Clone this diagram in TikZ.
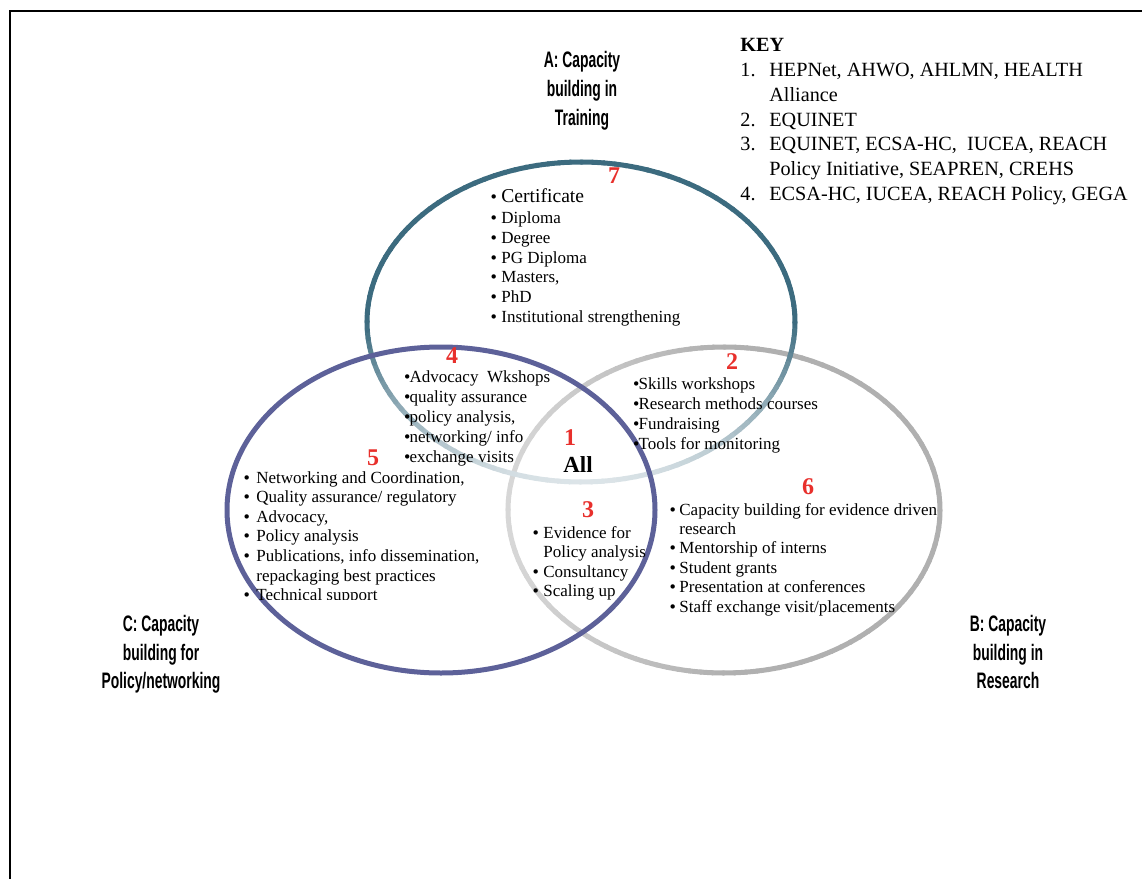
\documentclass[tikz,border=0pt]{standalone}
\usepackage{fontspec}
\setmainfont{Liberation Serif}
\newfontfamily\labfont[FakeStretch=0.62]{Liberation Sans}
\newfontfamily\bulfont{DejaVu Sans}
\definecolor{cA}{HTML}{3C6B7F}
\definecolor{cB}{HTML}{B0B0B0}
\definecolor{cC}{HTML}{5D6199}
\definecolor{nred}{HTML}{E8302C}
\newcommand\bulglyph{{\bulfont\fontsize{7.5}{7.5}\selectfont •}}
\newcommand\bul[1]{\makebox[#1][l]{\bulglyph}}
\newcommand\tbul{\hspace*{-0.8pt}\makebox[3.4pt][l]{\bulglyph}}
\begin{document}
\begin{tikzpicture}[x=0.5pt,y=-0.5pt,
  lst/.style={font=\fontsize{8.5}{10}\selectfont, inner sep=0pt, anchor=base west},
  keyt/.style={font=\fontsize{10.1}{12.5}\selectfont, inner sep=0pt, anchor=base west},
  lab/.style={font=\labfont\bfseries\fontsize{11.2}{14}\selectfont, inner sep=0pt, anchor=base},
  num/.style={font=\bfseries\fontsize{12}{12}\selectfont, text=nred, inner sep=0pt},
  ring/.style={line width=2.5pt, line cap=round}]
\useasboundingbox (0,0) rectangle (1142,879);
% frame
\coordinate (fr1) at (1142,11);
\coordinate (fr2) at (10,879);
\draw[line width=1.3pt] (fr1) -| (fr2);

% ellipse B (Research), gray, lighter on the left
\foreach \a in {0,3,...,357}{
  \pgfmathsetmacro\s{max(0,-cos(\a+1.5))}
  \pgfmathsetmacro\p{100-50*\s}
  \draw[ring, cB!\p!white] plot[domain=\a:\a+3.3, samples=3] ({724+216*cos(\x)},{510+163*sin(\x)});
}
% ellipse A (Training), teal, lighter at the bottom
\foreach \a in {0,3,...,357}{
  \pgfmathsetmacro\s{max(0,sin(\a+1.5))}
  \pgfmathsetmacro\p{100-82*\s}
  \draw[ring, cA!\p!white] plot[domain=\a:\a+3.3, samples=3] ({581+214*cos(\x)},{322+160*sin(\x)});
}
% ellipse C (Policy), purple
\draw[ring, cC] (441,510) ellipse [x radius=214, y radius=163];

% labels
\node[lab] (labA1) at (582,67) {A: Capacity};
\node[lab] (labA2) at (582,96) {building in};
\node[lab] (labA3) at (582,125) {Training};
\node[lab] (labC1) at (161,631) {C: Capacity};
\node[lab] (labC2) at (161,660) {building for};
\node[lab] (labC3) at (161,688) {Policy/networking};
\node[lab] (labB1) at (1008,631) {B: Capacity};
\node[lab] (labB2) at (1008,660) {building in};
\node[lab] (labB3) at (1008,688) {Research};

% key
\node[keyt, font=\bfseries\fontsize{10.1}{12.5}\selectfont] (key) at (740,51) {KEY};
\node[keyt] (k1n) at (740,76) {1.};
\node[keyt] (k1) at (769,76) {HEPNet, AHWO, AHLMN, HEALTH};
\node[keyt] (k1b) at (769,101) {Alliance};
\node[keyt] (k2n) at (740,126) {2.};
\node[keyt] (k2) at (769,126) {EQUINET};
\node[keyt] (k3n) at (740,150.5) {3.};
\node[keyt] (k3) at (769,150.5) {EQUINET, ECSA-HC,\ \ IUCEA, REACH};
\node[keyt] (k3b) at (769,175.5) {Policy Initiative, SEAPREN, CREHS};
\node[keyt] (k4n) at (740,200.5) {4.};
\node[keyt] (k4) at (769,200.5) {ECSA-HC, IUCEA, REACH Policy, GEGA};

% numbers
\node[num] (n7) at (614,176) {7};
\node[num] (n4) at (452,356) {4};
\node[num] (n2) at (732,362) {2};
\node[num] (n1) at (570,438) {1};
\node[font=\bfseries\fontsize{11.5}{12}\selectfont, inner sep=0pt] (all) at (578,465) {All};
\node[num] (n5) at (373,458) {5};
\node[num] (n3) at (588,510) {3};
\node[num] (n6) at (808,487) {6};

% region 7
\node[lst, font=\fontsize{9.8}{10}\selectfont] (r7a) at (489,202) {\bul{6pt}Certificate};
\foreach \t [count=\i] in {Diploma, Degree, PG Diploma, {Masters,}, PhD, Institutional strengthening}
  \node[lst] (r7-\i) at (489,{203.7+19.8*\i}) {\bul{6pt}\t};

% region 4
\foreach \t [count=\i] in {Advocacy\ \ Wkshops, quality assurance, {policy analysis,}, networking/ info, exchange visits}
  \node[lst] (r4-\i) at (404,{362+20*\i}) {\tbul\t};

% region 2
\foreach \t [count=\i] in {Skills workshops, Research methods courses, Fundraising, Tools for monitoring}
  \node[lst] (r2-\i) at (633,{369+20*\i}) {\tbul\t};

% region 5 and 3 (clipped at the bottom)
\begin{scope}
\clip (200,440) rectangle (660,599);
\foreach \t [count=\i] in {{Networking and Coordination,}, Quality assurance/ regulatory, {Advocacy,}, Policy analysis, {Publications, info dissemination,}}
  \node[lst] (r5-\i) at (242,{463.4+19.6*\i}) {\bul{7pt}\t};
\node[lst] (r5-6) at (256,581) {repackaging best practices};
\node[lst] (r5-7) at (242,600.6) {\bul{7pt}Technical support};
\foreach \t [count=\i] in {Evidence for, Policy analysis, Consultancy, Scaling up}
  \node[lst] (r3-\i) at (531,{518.4+19.6*\i}) {\ifnum\i=2 \hspace*{6pt}\else\bul{6pt}\fi\t};
\end{scope}

% region 6
\node[lst] (r6-1) at (668,515) {\bul{5.5pt}Capacity building for evidence driven};
\node[lst] (r6-2) at (679,534.4) {research};
\foreach \t [count=\i] in {Mentorship of interns, Student grants, Presentation at conferences, Staff exchange visit/placements}
  \node[lst] (r6-\the\numexpr\i+2\relax) at (668,{534.4+19.5*\i}) {\bul{5.5pt}\t};
\end{tikzpicture}
\end{document}
